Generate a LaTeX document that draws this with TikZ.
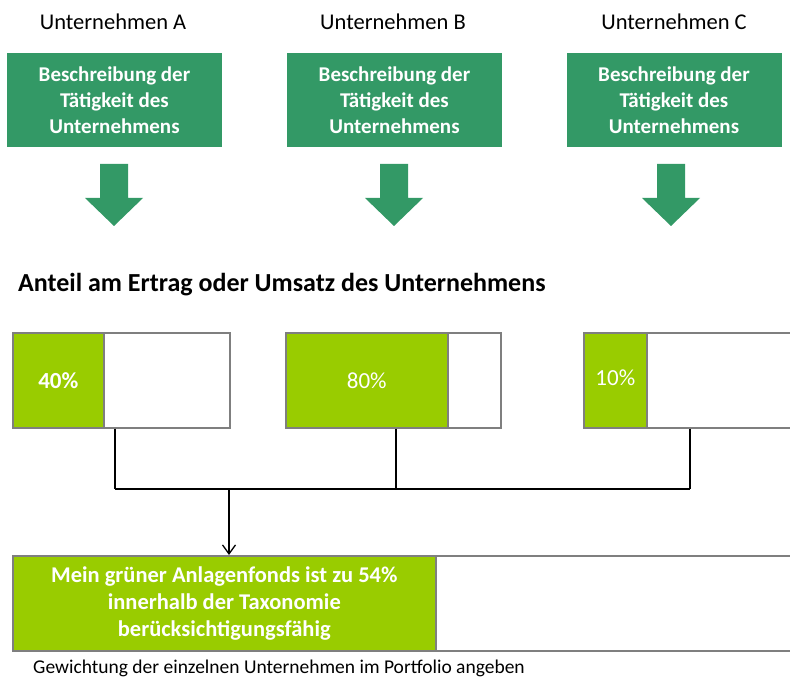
\documentclass[tikz,border=0pt]{standalone}
\usepackage{fontspec}
\setmainfont{Carlito}
\usetikzlibrary{arrows.meta}
\definecolor{vertfonce}{HTML}{339966}
\definecolor{vertclair}{HTML}{99CC00}
\definecolor{bordgris}{HTML}{7F7F7F}
\begin{document}
\begin{tikzpicture}[x=1pt,y=-1pt]
			% Styles
			\tikzstyle{titre}=[font=\fontsize{22.5}{26}\selectfont,anchor=center]
			\tikzstyle{activite}=[fill=vertfonce,text=white,font=\fontsize{21}{26}\selectfont\bfseries,align=center,minimum width=215pt,minimum height=94pt,inner sep=0pt]
			\tikzstyle{barre}=[draw=bordgris,line width=1.6pt,fill=white,anchor=north west,minimum height=95pt,inner sep=0pt]
			\tikzstyle{part}=[draw=bordgris,line width=1.6pt,fill=vertclair,text=white,anchor=north west,minimum height=95pt,inner sep=0pt,font=\fontsize{23}{26}\selectfont]
			\tikzstyle{liaison}=[line width=1.4pt,black]
			\tikzstyle{fleche}=[line width=1.3pt,black,-{Straight Barb[length=9pt,width=13pt]}]
			% Fleche bloc verte
			\def\FlecheBloc#1{\fill[vertfonce] (#1-14,164) -- (#1+14,164) -- (#1+14,198) -- (#1+29,198) -- (#1,226) -- (#1-29,198) -- (#1-14,198) -- cycle;}
			\useasboundingbox (0,0) rectangle (790,679);
			% Entreprises
			\node[titre] (TA) at (113,22) {Unternehmen A};
			\node[titre] (TB) at (393,22) {Unternehmen B};
			\node[titre] (TC) at (674,22) {Unternehmen C};
			\node[activite] (DA) at (114.5,100) {Beschreibung der\\Tätigkeit des\\Unternehmens};
			\node[activite] (DB) at (394.5,100) {Beschreibung der\\Tätigkeit des\\Unternehmens};
			\node[activite] (DC) at (674,100) {Beschreibung der\\Tätigkeit des\\Unternehmens};
			\FlecheBloc{114}
			\FlecheBloc{394}
			\FlecheBloc{671}
			% Anteils
			\node[anchor=west,font=\fontsize{26}{30}\selectfont\bfseries,inner sep=0pt] (H) at (18,285) {Anteil am Ertrag oder Umsatz des Unternehmens};
			\node[barre,minimum width=217pt] (BA) at (12,332) {};
			\node[part,minimum width=91pt,font=\fontsize{23}{26}\selectfont\bfseries] (PA) at (12,332) {40\%};
			\node[barre,minimum width=215pt] (BB) at (285,332) {};
			\node[part,minimum width=162pt] (PB) at (285,332) {80\%};
			\node[barre,minimum width=215pt] (BC) at (583,332) {};
			\node[part,minimum width=63pt] (PC) at (583,332) {10\%\rule[-6pt]{0pt}{0pt}};
			% Liaisons
			\coordinate (LA) at (115,489);
			\coordinate (LB) at (396,489);
			\coordinate (LC) at (690,489);
			\coordinate (J) at (229,489);
			\draw[liaison] (BA.south -| LA) -- (LA);
			\draw[liaison] (BB.south -| LB) -- (LB);
			\draw[liaison] (BC.south -| LC) -- (LC);
			\draw[liaison] (LA) -- (LC);
			% Fonds
			\node[barre,minimum width=790pt] (BF) at (12,555) {};
			\node[part,minimum width=423pt,font=\fontsize{22.5}{27}\selectfont\bfseries,align=center] (PF) at (12,555) {Mein grüner Anlagenfonds ist zu 54\%\\innerhalb der Taxonomie\\berücksichtigungsfähig};
			\draw[fleche] (J) -- (BF.north -| J);
			\node[anchor=west,font=\fontsize{19.5}{22}\selectfont,inner sep=0pt] (G) at (33,668) {Gewichtung der einzelnen Unternehmen im Portfolio angeben};
		\end{tikzpicture}
\end{document}
